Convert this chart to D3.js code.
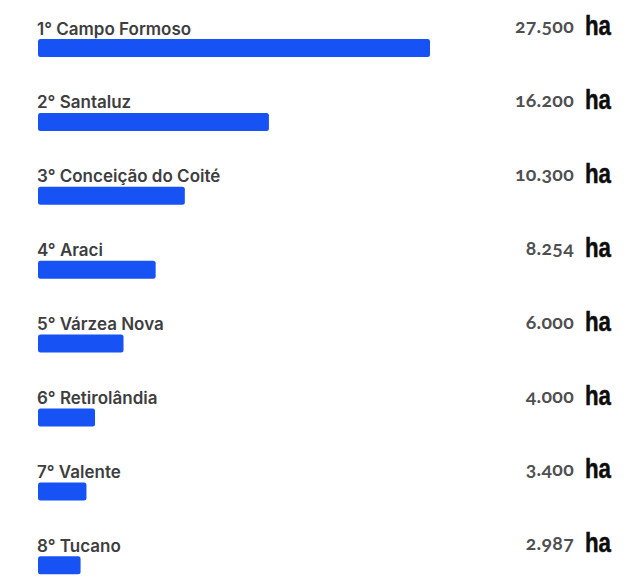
<!DOCTYPE html>
<html>
<head>
<meta charset="utf-8">
<script src="https://cdn.jsdelivr.net/npm/d3@7"></script>
<style>
  html, body { margin: 0; padding: 0; background: #fff; }
  .label { font-family: Inter, "Noto Sans", sans-serif; font-weight: 600; font-size: 17px; fill: #3e3e40; }
  .num { font-family: Lato, "Open Sans", sans-serif; font-weight: 700; font-size: 19.5px; fill: #505052;
         font-variant-numeric: oldstyle-nums; font-feature-settings: "onum" 1; letter-spacing: 0.3px; }
  .unit { font-family: "Liberation Sans", Arial, sans-serif; font-weight: 700; font-size: 27.5px; fill: #0d0d0d;
          stroke: #0d0d0d; stroke-width: 0.5px; }
</style>
</head>
<body>
<div id="chart"></div>
<script>
// municipios e area (ha)
var cities = ["Campo Formoso", "Santaluz", "Conceição do Coité", "Araci",
              "Várzea Nova", "Retirolândia", "Valente", "Tucano"];
var ranks = ["1°", "2°", "3°", "4°", "5°", "6°", "7°", "8°"];
var areas = [27500, 16200, 10300, 8254, 6000, 4000, 3400, 2987];
var areaLabels = ["27.500", "16.200", "10.300", "8.254", "6.000", "4.000", "3.400", "2.987"];

var width = 635, height = 581;

var svg = d3.select("#chart").append("svg")
    .attr("width", width).attr("height", height);

var x = d3.scaleLinear().domain([0, 27500]).range([38, 430]);
var y = d3.scaleBand().domain(d3.range(cities.length))
    .range([39, 39 + 73.9 * cities.length]).paddingInner(0);
var barH = 18;

var rows = svg.selectAll("g.row")
    .data(cities)
  .enter().append("g")
    .attr("class", "row")
    .attr("transform", function(d, i) { return "translate(0," + y(i) + ")"; });

rows.append("rect")
    .attr("x", x(0))
    .attr("y", 0)
    .attr("width", function(d, i) { return x(areas[i]) - x(0); })
    .attr("height", barH)
    .attr("rx", 2.5)
    .attr("fill", "#1753f4");

rows.append("text")
    .attr("class", "label")
    .attr("x", x(0) - 1)
    .attr("y", -4.5)
    .text(function(d, i) { return ranks[i] + " " + d; });

rows.append("text")
    .attr("class", "num")
    .attr("x", 574)
    .attr("y", -6)
    .attr("text-anchor", "end")
    .text(function(d, i) { return areaLabels[i]; });

rows.append("text")
    .attr("class", "unit")
    .attr("x", 585)
    .attr("y", -4)
    .attr("textLength", 26)
    .attr("lengthAdjust", "spacingAndGlyphs")
    .text("ha");
</script>
</body>
</html>
